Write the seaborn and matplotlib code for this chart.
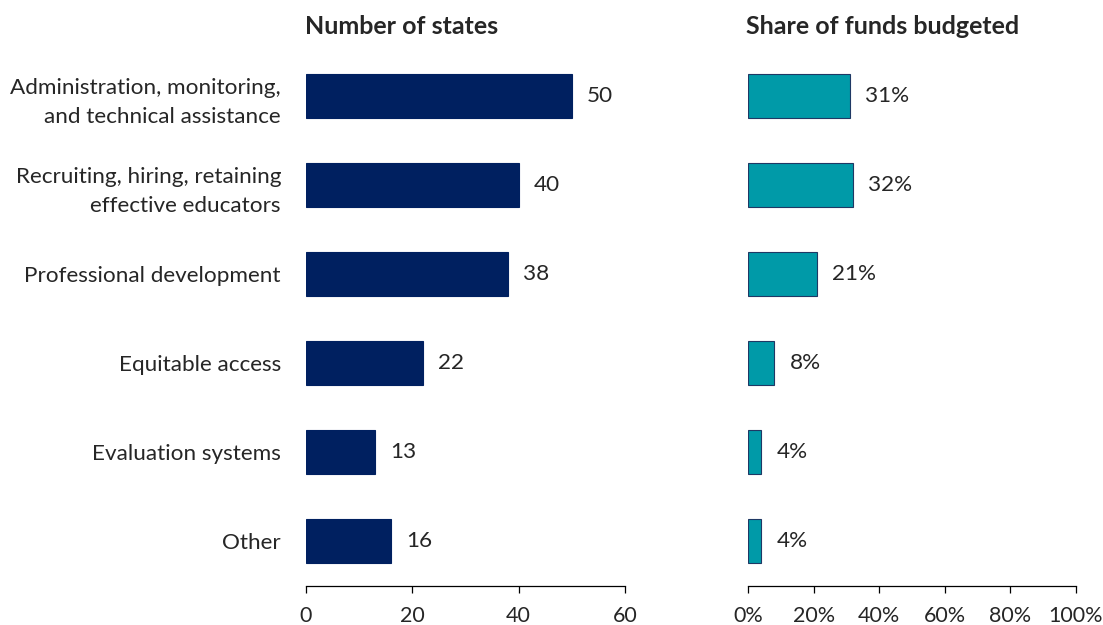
import matplotlib
matplotlib.use("Agg")
import matplotlib.pyplot as plt
import seaborn as sns
import pandas as pd
from matplotlib.ticker import PercentFormatter

categories = [
    "Administration, monitoring,\nand technical assistance",
    "Recruiting, hiring, retaining\neffective educators",
    "Professional development",
    "Equitable access",
    "Evaluation systems",
    "Other",
]
num_states = [50, 40, 38, 22, 13, 16]
share_funds = [31, 32, 21, 8, 4, 4]

sns.set_theme(style="white")
plt.rcParams["font.family"] = ["Lato", "DejaVu Sans"]

df = pd.DataFrame({"category": categories, "states": num_states, "share": share_funds})

fig = plt.figure(figsize=(11.03, 6.25), dpi=100)
ax1 = fig.add_axes([306 / 1103, 1 - 585.5 / 625, 319 / 1103, 534 / 625])
ax2 = fig.add_axes([748 / 1103, 1 - 585.5 / 625, 328 / 1103, 534 / 625])

navy = "#002060"
teal = "#009AA8"
fs = 16.2

sns.barplot(data=df, y="category", x="states", ax=ax1, color=navy, width=0.5,
            orient="h", edgecolor=navy, linewidth=0.8, saturation=1)
sns.barplot(data=df, y="category", x="share", ax=ax2, color=teal, width=0.5,
            orient="h", edgecolor="#1F3864", linewidth=0.8, saturation=1)

ax1.bar_label(ax1.containers[0], labels=[str(v) for v in num_states], padding=11, fontsize=fs)
ax2.bar_label(ax2.containers[0], labels=[f"{v}%" for v in share_funds], padding=11, fontsize=fs)

ax1.set_xlim(0, 60)
ax1.set_xticks([0, 20, 40, 60])
ax2.set_xlim(0, 100)
ax2.set_xticks([0, 20, 40, 60, 80, 100])
ax2.xaxis.set_major_formatter(PercentFormatter(decimals=0))

for ax in (ax1, ax2):
    ax.set_ylim(5.5, -0.5)
    ax.set_xlabel("")
    ax.set_ylabel("")
    for s in ("top", "right", "left"):
        ax.spines[s].set_visible(False)
    ax.spines["bottom"].set_color("#000000")
    ax.spines["bottom"].set_linewidth(0.9)
    ax.tick_params(axis="x", which="major", direction="out", length=5, width=0.9,
                   color="#000000", labelsize=15.5, pad=10, bottom=True)
    ax.tick_params(axis="y", length=0)

ax1.tick_params(axis="y", labelsize=fs, pad=18)
for lbl in ax1.get_yticklabels():
    lbl.set_horizontalalignment("right")
    lbl.set_multialignment("right")
    lbl.set_linespacing(1.55)
ax2.set_yticklabels([])

fig.text(305 / 1103, 1 - 27 / 625, "Number of states", fontsize=18, fontweight="bold",
         ha="left", va="center")
fig.text(746 / 1103, 1 - 27 / 625, "Share of funds budgeted", fontsize=18, fontweight="bold",
         ha="left", va="center")

fig.savefig("out.png", dpi=100, facecolor="white")
